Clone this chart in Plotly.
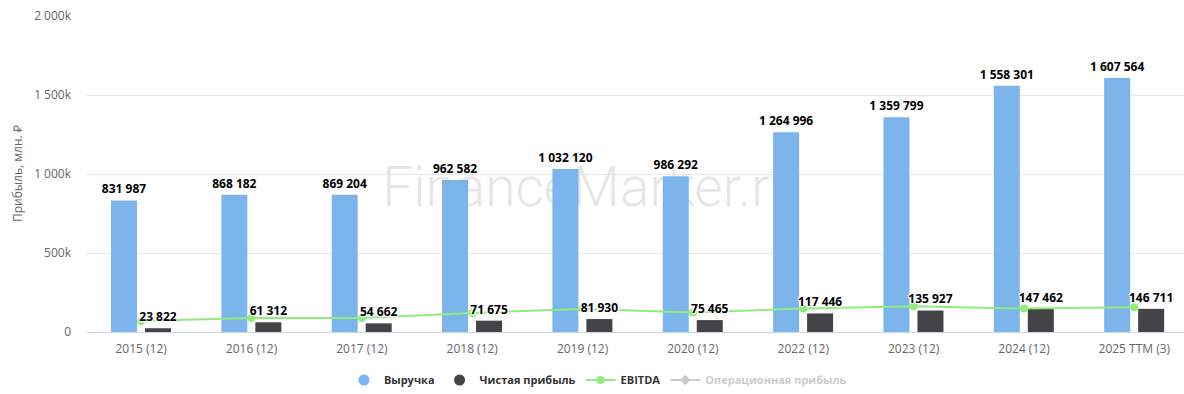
import plotly.graph_objects as go

categories = ["2015 (12)", "2016 (12)", "2017 (12)", "2018 (12)", "2019 (12)",
              "2020 (12)", "2022 (12)", "2023 (12)", "2024 (12)", "2025 TTM (3)"]
revenue = [831987, 868182, 869204, 962582, 1032120, 986292, 1264996, 1359799, 1558301, 1607564]
net_income = [23822, 61312, 54662, 71675, 81930, 75465, 117446, 135927, 147462, 146711]
ebitda = [69000, 89000, 89000, 121000, 146000, 124000, 148000, 163000, 148000, 156000]
op_profit = [None] * len(categories)  # hidden series (legend only)

y_tickvals = [0, 500000, 1000000, 1500000, 2000000]
y_ticktext = ["0", "500k", "1 000k", "1 500k", "2 000k"]

C_REV = "#7cb5ec"
C_NET = "#434348"
C_EBITDA = "#90ed7d"
C_OP = "#999999"
FONT = "Open Sans"

x_idx = list(range(len(categories)))
BAR_W = 0.2356
OFF_REV = -0.2735
OFF_NET = 0.0346

fig = go.Figure()

fig.add_trace(go.Bar(x=x_idx, y=revenue, width=BAR_W, offset=OFF_REV,
                     marker=dict(color=C_REV, line=dict(width=0)),
                     name="Выручка", legendgroup="rev", showlegend=False))
fig.add_trace(go.Bar(x=x_idx, y=net_income, width=BAR_W, offset=OFF_NET,
                     marker=dict(color=C_NET, line=dict(width=0)),
                     name="Чистая прибыль", legendgroup="net", showlegend=False))
fig.add_trace(go.Scatter(x=x_idx, y=ebitda, mode="lines+markers", name="EBITDA",
                         line=dict(color=C_EBITDA, width=2),
                         marker=dict(color=C_EBITDA, size=8, symbol="circle"),
                         legendrank=3))
fig.add_trace(go.Scatter(x=x_idx, y=op_profit, mode="lines+markers",
                         name="<span style='color:#999999'>Операционная прибыль</span>",
                         line=dict(color=C_OP, width=2),
                         marker=dict(color=C_OP, size=8, symbol="diamond"),
                         visible="legendonly", legendrank=4))

LABEL_FONT = dict(family=FONT, size=12, color="#000000", weight=700,
                  shadow="1px 1px 1px #fff, -1px -1px 1px #fff, 1px -1px 1px #fff, -1px 1px 1px #fff")

# data labels
fig.add_trace(go.Scatter(x=[i + OFF_REV + BAR_W / 2 for i in x_idx], y=revenue,
                         mode="markers+text", text=[f"{v:,}".replace(",", " ") for v in revenue],
                         marker=dict(size=5, color="rgba(0,0,0,0)"),
                         textposition="top center", cliponaxis=False, textfont=LABEL_FONT,
                         showlegend=False, hoverinfo="skip", legendgroup="rev"))
fig.add_trace(go.Scatter(x=[i + OFF_NET + BAR_W / 2 for i in x_idx], y=net_income,
                         mode="markers+text", text=[f"{v:,}".replace(",", " ") for v in net_income],
                         marker=dict(size=5, color="rgba(0,0,0,0)"),
                         textposition="top center", cliponaxis=False, textfont=LABEL_FONT,
                         showlegend=False, hoverinfo="skip", legendgroup="net"))

# legend entries with circle symbols
fig.add_trace(go.Scatter(x=[None], y=[None], mode="markers", name="Выручка",
                         marker=dict(color=C_REV, size=11, symbol="circle"),
                         legendgroup="rev", legendrank=1))
fig.add_trace(go.Scatter(x=[None], y=[None], mode="markers", name="Чистая прибыль",
                         marker=dict(color=C_NET, size=11, symbol="circle"),
                         legendgroup="net", legendrank=2))

fig.update_layout(
    width=1184, height=394,
    margin=dict(l=86, r=0, t=16, b=62, autoexpand=False),
    plot_bgcolor="white", paper_bgcolor="white",
    barmode="overlay",
    separators=". ",
    font=dict(family=FONT, size=12, color="#666666"),
    showlegend=True,
    legend=dict(orientation="h", xref="container", yref="container",
                x=0.505, xanchor="center", y=0.0355, yanchor="middle",
                font=dict(family=FONT, size=11, color="#333333", weight=700),
                itemwidth=30, tracegroupgap=0, traceorder="normal"),
    xaxis=dict(range=[-0.5, 9.45], tickvals=x_idx, ticktext=categories,
               showgrid=False, zeroline=False, showline=True, linecolor="#ccd6eb",
               linewidth=1, ticks="", ticklabelstandoff=6, automargin=False,
               tickfont=dict(family=FONT, size=12, color="#666666")),
    yaxis=dict(range=[0, 2000000], tickvals=y_tickvals, ticktext=y_ticktext,
               showgrid=True, gridcolor="#e6e6e6", gridwidth=1, zeroline=False,
               showline=False, ticks="", ticklabelstandoff=14, automargin=False,
               tickfont=dict(family=FONT, size=12, color="#666666")),
    annotations=[dict(text="Прибыль, млн. ₽", xref="paper", yref="paper",
                      x=(17 - 86) / 1098, y=0.5, xanchor="center", yanchor="middle",
                      textangle=-90, showarrow=False,
                      font=dict(family=FONT, size=12, color="#666666"))],
    shapes=[dict(type="rect", xref="paper", yref="paper", x0=0.1, x1=0.82,
                 y0=0.3, y1=0.64, line=dict(width=0), fillcolor="rgba(0,0,0,0)",
                 layer="below",
                 label=dict(text="FinanceMarker.ru", textposition="middle center",
                            font=dict(family="Roboto", size=55, color="#e6e6e6", weight=300)))],
)

fig.write_html("out.html", config={"displayModeBar": False},
               post_script="document.body.style.margin='0px';document.body.style.overflow='hidden';")
